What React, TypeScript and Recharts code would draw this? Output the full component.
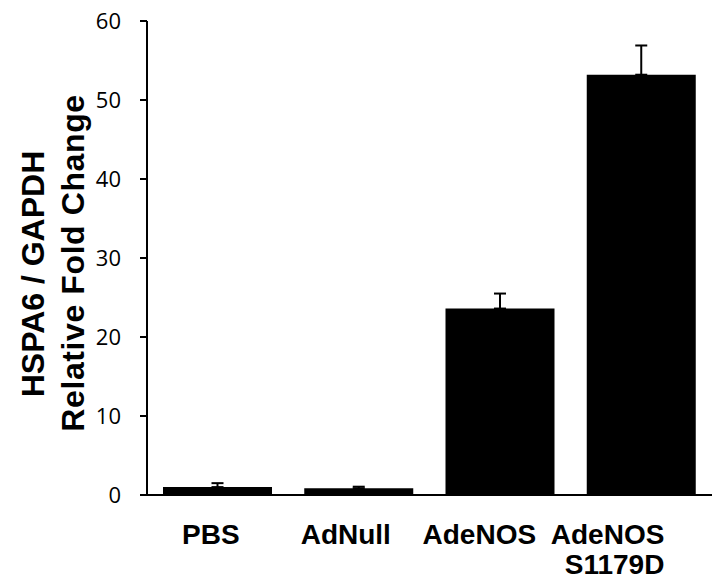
import React from 'react';
import { BarChart, Bar, XAxis, YAxis, ErrorBar } from 'recharts';

const categories = ['PBS', 'AdNull', 'AdeNOS', 'AdeNOS\nS1179D'];
const foldChange = [1.0, 0.85, 23.6, 53.2];
const sem = [0.5, 0.2, 1.9, 3.7];
const yTicks = [0, 10, 20, 30, 40, 50, 60];
const yTitleLines = ['HSPA6 / GAPDH', 'Relative Fold Change'];

const data = categories.map((name, i) => ({
  name,
  value: foldChange[i],
  err: [0, sem[i]],
}));

// horizontal shift of each category label's right edge relative to category centre
const LABEL_SHIFT = [22, 32, 36, 23];
const BOLD_FONT = '"Liberation Sans", Arial, sans-serif';

const XTick = (props: any) => {
  const { x, y, payload } = props;
  const idx = payload?.index ?? props.index ?? 0;
  const lines = String(payload.value).split('\n');
  return (
    <g>
      {lines.map((l, k) => (
        <text
          key={k}
          x={x + LABEL_SHIFT[idx]}
          y={y + 49 + k * 30}
          textAnchor="end"
          fontFamily={BOLD_FONT}
          fontWeight="bold"
          fontSize={28}
          fill="#000"
        >
          {l}
        </text>
      ))}
    </g>
  );
};

const YTitle = (props: any) => {
  const vb = props.viewBox || { x: 0, y: 21, width: 147, height: 474 };
  const cy = vb.y + vb.height / 2;
  return (
    <g>
      <text
        transform={`translate(${vb.x + 44}, ${cy + 16}) rotate(-90)`}
        textAnchor="middle"
        fontFamily={BOLD_FONT}
        fontWeight="bold"
        fontSize={32}
        fill="#000"
      >
        {yTitleLines[0]}
      </text>
      <text
        transform={`translate(${vb.x + 84}, ${cy + 5}) rotate(-90)`}
        textAnchor="middle"
        fontFamily={BOLD_FONT}
        fontWeight="bold"
        fontSize={32}
        letterSpacing={0.6}
        fill="#000"
      >
        {yTitleLines[1]}
      </text>
    </g>
  );
};

export default function App() {
  return (
    <div style={{ position: 'absolute', left: 0, top: 0, width: 713, height: 588, background: '#fff' }}>
      <BarChart
        width={713}
        height={588}
        data={data}
        margin={{ top: 21, right: 1, bottom: 13, left: 0 }}
      >
        <XAxis
          dataKey="name"
          interval={0}
          tickLine={false}
          tickSize={0}
          tickMargin={0}
          height={80}
          axisLine={{ stroke: '#000', strokeWidth: 2 }}
          tick={<XTick />}
        />
        <YAxis
          domain={[0, 60]}
          ticks={yTicks}
          interval={0}
          width={147}
          tickSize={7}
          tickMargin={19}
          axisLine={{ stroke: '#000', strokeWidth: 2 }}
          tickLine={{ stroke: '#000', strokeWidth: 2 }}
          tick={{ fontFamily: '"Open Sans", sans-serif', fontSize: 22, fill: '#000' }}
          label={{ content: (p: any) => <YTitle {...p} /> }}
        />
        <Bar dataKey="value" fill="#000" barSize={109} isAnimationActive={false}>
          <ErrorBar dataKey="err" direction="y" width={6} strokeWidth={2} stroke="#000" isAnimationActive={false} />
        </Bar>
      </BarChart>
    </div>
  );
}
